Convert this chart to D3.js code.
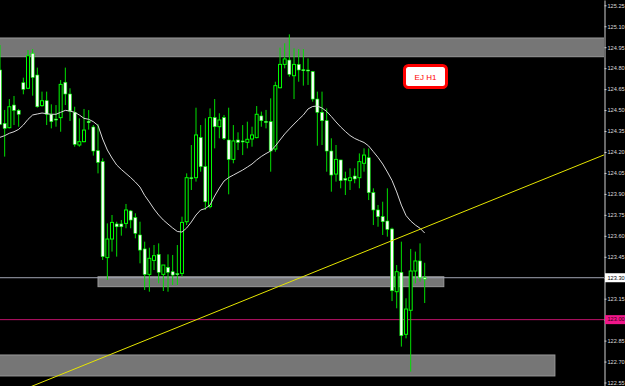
<!DOCTYPE html>
<html>
<head>
<meta charset="utf-8">
<script src="https://cdn.jsdelivr.net/npm/d3@7"></script>
<style>
    html, body { margin: 0; padding: 0; background: #000; overflow: hidden; }
    svg { display: block; }
    .axis text { font-family: "Liberation Sans", Arial, sans-serif; font-size: 5.6px; fill: #dcdcdc; }
    .axis path, .axis line { stroke: #d0d0d0; }
</style>
</head>
<body>
<svg id="chart"></svg>
<script>
// EJ H1 candles
const open = [124.787,124.405,124.374,124.536,124.498,124.696,124.656,124.906,124.751,124.532,
    124.567,124.470,124.436,124.446,124.699,124.615,124.484,124.250,124.274,124.420,
    124.379,124.209,124.131,123.444,123.577,123.685,123.685,123.689,123.778,123.730,
    123.606,123.506,123.324,123.424,123.467,123.324,123.374,123.343,123.329,123.331,
    123.701,124.016,124.016,124.303,124.095,123.809,124.446,124.381,124.446,124.286,
    124.147,124.286,124.279,124.269,124.293,124.303,124.458,124.419,124.417,124.221,
    124.660,124.827,124.858,124.746,124.827,124.789,124.787,124.775,124.579,124.484,
    124.424,124.207,124.042,124.143,124.011,123.995,124.028,124.016,124.119,124.159,
    123.909,123.785,123.737,123.706,123.649,123.200,123.339,122.895,123.067,123.348,
    123.420,123.300];
const high = [124.966,124.501,124.579,124.601,124.508,124.732,124.930,124.937,124.804,124.632,
    124.632,124.541,124.536,124.715,124.804,124.656,124.524,124.441,124.508,124.500,
    124.393,124.398,124.155,123.689,123.749,123.701,123.713,123.828,123.785,123.761,
    123.701,123.558,123.515,123.534,123.546,123.391,123.467,123.463,123.534,123.737,
    124.047,124.250,124.517,124.393,124.441,124.512,124.579,124.477,124.465,124.517,
    124.393,124.341,124.393,124.417,124.381,124.529,124.489,124.501,124.584,124.703,
    124.947,124.978,125.042,124.942,124.937,124.937,124.870,124.780,124.632,124.632,
    124.512,124.298,124.250,124.143,124.059,124.083,124.083,124.190,124.226,124.226,
    123.940,123.821,123.844,123.940,123.658,123.391,123.558,123.153,123.506,123.487,
    123.546,123.407];
const low = [124.393,124.167,124.369,124.393,124.381,124.613,124.650,124.603,124.517,124.524,
    124.393,124.369,124.381,124.345,124.536,124.422,124.238,124.238,124.269,124.360,
    124.174,124.047,123.427,123.284,123.487,123.451,123.601,123.654,123.654,123.582,
    123.403,123.212,123.200,123.355,123.260,123.205,123.200,123.248,123.248,123.308,
    123.677,123.928,123.988,124.059,123.785,123.797,124.226,124.298,124.286,123.897,
    124.119,124.214,124.178,124.226,124.238,124.298,124.381,124.369,124.059,124.202,
    124.656,124.799,124.739,124.579,124.703,124.675,124.680,124.560,124.245,124.250,
    124.059,123.916,123.988,123.940,123.892,123.928,123.976,123.940,124.059,123.856,
    123.677,123.665,123.606,123.594,123.133,123.081,122.807,122.866,122.628,123.260,
    123.272,123.119];
const close = [124.398,124.369,124.524,124.498,124.470,124.649,124.889,124.734,124.524,124.567,
    124.470,124.417,124.432,124.684,124.615,124.493,124.255,124.274,124.357,124.410,
    124.207,124.126,123.451,123.577,123.696,123.665,123.665,123.785,123.713,123.618,
    123.498,123.324,123.439,123.458,123.339,123.391,123.339,123.319,123.322,123.696,
    124.016,124.011,124.322,124.095,123.844,124.446,124.381,124.429,124.298,124.147,
    124.279,124.269,124.274,124.291,124.322,124.470,124.424,124.415,124.207,124.675,
    124.827,124.866,124.756,124.827,124.787,124.785,124.785,124.579,124.484,124.424,
    124.207,124.035,124.147,123.995,123.999,124.016,124.007,124.131,124.178,123.909,
    123.785,123.737,123.701,123.646,123.207,123.343,122.885,123.076,123.348,123.420,
    123.300,123.290];

// moving average line (white)
const maValues = [124.305,124.317,124.334,124.345,124.362,124.393,124.434,124.465,124.472,124.479,
    124.474,124.470,124.470,124.484,124.498,124.493,124.484,124.465,124.441,124.434,
    124.417,124.390,124.293,124.214,124.157,124.107,124.075,124.046,124.017,123.985,
    123.949,123.889,123.842,123.792,123.749,123.713,123.684,123.656,123.631,123.627,
    123.656,123.699,123.749,123.785,123.795,123.820,123.885,123.942,123.992,124.017,
    124.035,124.053,124.071,124.092,124.114,124.143,124.168,124.189,124.207,124.243,
    124.286,124.329,124.365,124.400,124.433,124.465,124.508,124.526,124.529,124.515,
    124.490,124.454,124.415,124.379,124.347,124.318,124.297,124.282,124.268,124.243,
    124.202,124.161,124.114,124.057,123.996,123.914,123.820,123.745,123.706,123.677,
    123.654,123.620];

// price scale labels
const tickLabels = ["125.25","125.10","124.95","124.80","124.65","124.50","124.35","124.20","124.05",
    "123.90","123.75","123.60","123.45","123.30","123.15","123.00","122.85","122.70","122.55"];

// drawn objects: zones (bar from/to, price top/bottom), levels, trend line
const zoneFrom = [-2, 21.0, -2];
const zoneTo = [140, 95.1, 118.9];
const zoneTop = [125.016, 123.307, 122.747];
const zoneBottom = [124.882, 123.236, 122.597];
const levelPrices = [123.30, 123.00];
const trendBars = [22.5, 93.2];
const trendPrices = [122.735, 123.690];

const width = 625, height = 386, plotW = 604;

let svg = d3.select("#chart")
    .attr("width", width)
    .attr("height", height);

svg.append("rect").attr("width", width).attr("height", height).attr("fill", "#000");

const x = d3.scaleLinear().domain([0, 91]).range([0, 424.7]);
const y = d3.scaleLinear().domain([122.525, 125.288]).range([height, 0]);

svg.append("clipPath").attr("id", "plot-clip")
    .append("rect").attr("width", plotW).attr("height", height);

let plot = svg.append("g").attr("clip-path", "url(#plot-clip)");

// gray zones
const zones = d3.range(zoneFrom.length);
plot.selectAll(".zone")
    .data(zones)
    .enter().append("rect")
    .attr("class", "zone")
    .attr("x", i => x(zoneFrom[i]))
    .attr("width", i => x(zoneTo[i]) - x(zoneFrom[i]))
    .attr("y", i => y(zoneTop[i]))
    .attr("height", i => y(zoneBottom[i]) - y(zoneTop[i]))
    .attr("fill", "#767676")
    .attr("stroke", "#9a9a9a")
    .attr("stroke-width", 1);

// horizontal levels
plot.append("line")
    .attr("x1", 0).attr("x2", plotW)
    .attr("y1", y(levelPrices[0])).attr("y2", y(levelPrices[0]))
    .attr("stroke", "#a2a6b4").attr("stroke-width", 1);
plot.append("line")
    .attr("x1", 0).attr("x2", plotW)
    .attr("y1", y(levelPrices[1])).attr("y2", y(levelPrices[1]))
    .attr("stroke", "#c0126c").attr("stroke-width", 1);

// candles
const bars = d3.range(open.length);
let candle = plot.selectAll(".candle")
    .data(bars)
    .enter().append("g")
    .attr("class", "candle");

candle.append("line")
    .attr("x1", i => x(i)).attr("x2", i => x(i))
    .attr("y1", i => y(high[i])).attr("y2", i => y(low[i]))
    .attr("stroke", "#00e000")
    .attr("stroke-width", 1);

candle.append("rect")
    .attr("x", i => x(i) - 1.5)
    .attr("width", 3)
    .attr("y", i => y(Math.max(open[i], close[i])))
    .attr("height", i => Math.max(1, Math.abs(y(open[i]) - y(close[i]))))
    .attr("fill", i => close[i] > open[i] ? "#000" : "#ffffff")
    .attr("stroke", "#00ff00")
    .attr("stroke-width", i => close[i] > open[i] ? 1 : 0.6);

// moving average
const maLine = d3.line()
    .x((d, i) => x(i))
    .y(d => y(d));

plot.append("path")
    .datum(maValues)
    .attr("d", maLine)
    .attr("fill", "none")
    .attr("stroke", "#d8d8d8")
    .attr("stroke-width", 1);

// yellow trend line, extended across the plot
const slope = (trendPrices[1] - trendPrices[0]) / (trendBars[1] - trendBars[0]);
const xEnd = x.invert(plotW);
plot.append("line")
    .attr("x1", x(0)).attr("y1", y(trendPrices[0] - slope * trendBars[0]))
    .attr("x2", x(xEnd)).attr("y2", y(trendPrices[0] + slope * (xEnd - trendBars[0])))
    .attr("stroke", "#e6e600")
    .attr("stroke-width", 1);

// price axis on the right
const tickPrices = tickLabels.map(Number);
let axis = svg.append("g")
    .attr("class", "axis")
    .attr("transform", "translate(" + (plotW + 0.5) + ",0)")
    .call(d3.axisRight(y)
        .tickValues(tickPrices)
        .tickSize(2)
        .tickPadding(1)
        .tickSizeOuter(0)
        .tickFormat((d, i) => tickLabels[i]));

// level price tags
const tagFill = ["#ffffff", "#f0168a"];
levelPrices.forEach(function (p, i) {
    let tag = svg.append("g");
    tag.append("rect")
        .attr("x", plotW + 1)
        .attr("y", y(p) - 4.5)
        .attr("width", width - plotW - 1)
        .attr("height", 9)
        .attr("fill", tagFill[i]);
    tag.append("text")
        .attr("x", plotW + 3.5)
        .attr("y", y(p))
        .attr("dy", "0.32em")
        .attr("font-family", "Liberation Sans, Arial, sans-serif")
        .attr("font-size", "5.6px")
        .attr("fill", i === 0 ? "#000" : "#300010")
        .text(d3.format(".2f")(p));
});

// EJ H1 label
let label = svg.append("g");
label.append("rect")
    .attr("x", 404.5).attr("y", 65.5)
    .attr("width", 42).attr("height", 22)
    .attr("rx", 4).attr("ry", 4)
    .attr("fill", "#ffffff")
    .attr("stroke", "#ff0000")
    .attr("stroke-width", 3);
label.append("text")
    .attr("x", 425.5).attr("y", 77)
    .attr("dy", "0.35em")
    .attr("text-anchor", "middle")
    .attr("font-family", "Liberation Sans, Arial, sans-serif")
    .attr("font-size", "8px")
    .attr("fill", "#ff0000")
    .text("EJ H1");
</script>
</body>
</html>
